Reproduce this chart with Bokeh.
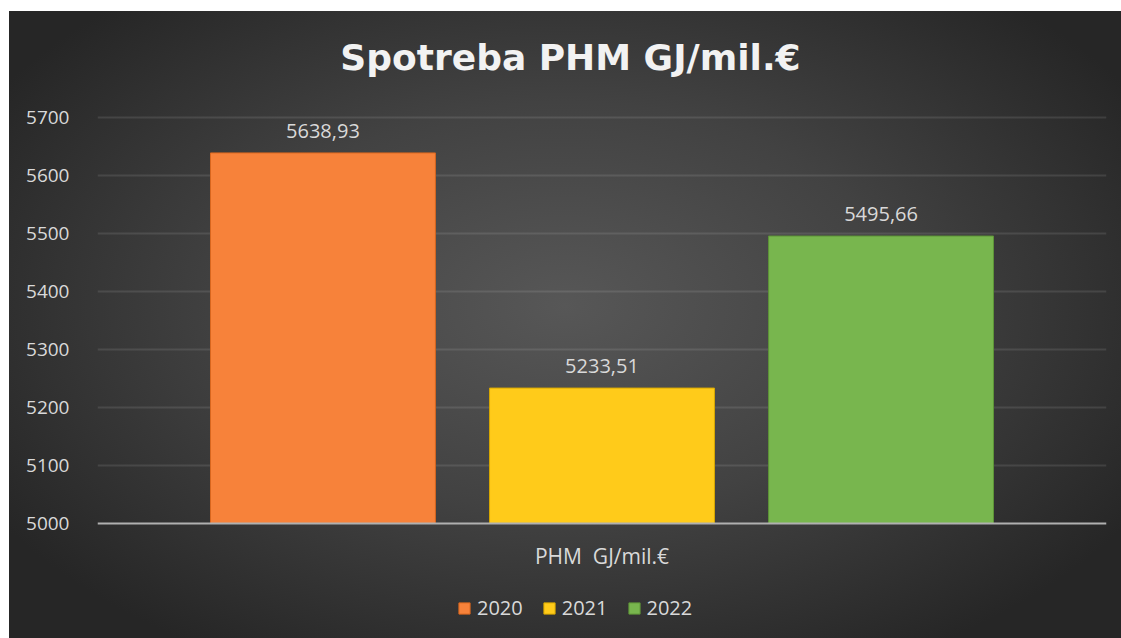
from bokeh.plotting import figure
from bokeh.models import (ColumnDataSource, Range1d, FixedTicker, LabelSet, Label,
                          Legend, LegendItem, Span)
from bokeh.core.properties import value
from bokeh.embed import file_html
from bokeh.resources import INLINE

# ---- data ----
years = ["2020", "2021", "2022"]
values = [5638.93, 5233.51, 5495.66]
labels = ["5638,93", "5233,51", "5495,66"]
colors = ["#F7823A", "#FFCB1A", "#78B64E"]
edge_colors = ["#D8661E", "#D9A800", "#5E9438"]
category = "PHM\u00a0\u00a0GJ/mil.€"
title_text = "Spotreba PHM GJ/mil.€"
y_ticks = [5000, 5100, 5200, 5300, 5400, 5500, 5600, 5700]

FONT = "Open Sans"
TXT = "#d9d9d9"

xs = list(range(len(years)))
src = ColumnDataSource(dict(x=xs, top=values, year=years, lab=labels, color=colors))

# frame spans the whole figure height; value axis 5000..5700 occupies the middle part
upp = 700 / 406.0  # value units per pixel
y_lo = y_ticks[0] - 115 * upp
y_hi = y_ticks[-1] + 106 * upp

p = figure(width=1112, height=627, output_backend="svg", toolbar_location=None,
           x_range=Range1d(-0.808, len(years) - 1 + 0.808),
           y_range=Range1d(y_lo, y_hi),
           min_border_left=88, min_border_right=15, min_border_top=0, min_border_bottom=0,
           margin=(11, 0, 0, 9))
p.styles = {"background": "radial-gradient(ellipse 60% 65% at 50% 47%, #575757 0%, #424242 50%, #262626 100%)"}
p.border_fill_color = None
p.background_fill_color = None
p.outline_line_color = None
p.xaxis.visible = False

legend_items = []
for i, yr in enumerate(years):
    view_src = ColumnDataSource(dict(x=[xs[i]], top=[values[i]]))
    r = p.vbar(x="x", top="top", bottom=y_ticks[0], width=0.806, source=view_src,
               fill_color=colors[i], line_color=edge_colors[i], line_width=1)
    legend_items.append(LegendItem(label=yr, renderers=[r]))

# value axis
p.yaxis.ticker = FixedTicker(ticks=y_ticks)
p.yaxis.axis_line_color = None
p.yaxis.major_tick_line_color = None
p.yaxis.minor_tick_line_color = None
p.yaxis.major_label_text_font = FONT
p.yaxis.major_label_text_font_size = "19px"
p.yaxis.major_label_text_color = TXT
p.yaxis.major_label_standoff = 22

p.xgrid.grid_line_color = None
p.ygrid.ticker = FixedTicker(ticks=y_ticks[1:])
p.ygrid.grid_line_color = "white"
p.ygrid.grid_line_alpha = 0.1
p.ygrid.grid_line_width = 2

# category axis line at the base value
p.add_layout(Span(location=y_ticks[0], dimension="width", line_color="#b0b0b0", line_width=2))

center = (len(years) - 1) / 2
p.add_layout(Label(x=center, y=y_ticks[0] - 32 * upp, text=category, text_align="center",
                   text_baseline="middle", text_font=FONT, text_font_size="21px",
                   text_color=TXT))

# data labels
p.add_layout(LabelSet(x="x", y="top", text="lab", source=src, y_offset=15,
                      text_align="center", text_baseline="bottom",
                      text_font=value(FONT), text_font_size="20px", text_color=TXT))

# title
p.add_layout(Label(x=center - 0.113, y=y_ticks[-1] + 60 * upp, text=title_text, text_align="center",
                   text_baseline="middle", text_font="DejaVu Sans", text_font_size="36px",
                   text_font_style="bold", text_color="#f2f2f2"))

legend = Legend(items=legend_items, orientation="horizontal", location=(360, 17),
                background_fill_alpha=0, border_line_color=None, padding=0, margin=0,
                spacing=19, label_standoff=6, glyph_width=14, glyph_height=14,
                label_text_font=FONT, label_text_font_size="20px", label_text_color=TXT)
p.add_layout(legend, "center")

open("out.html", "w").write(file_html(p, INLINE))
